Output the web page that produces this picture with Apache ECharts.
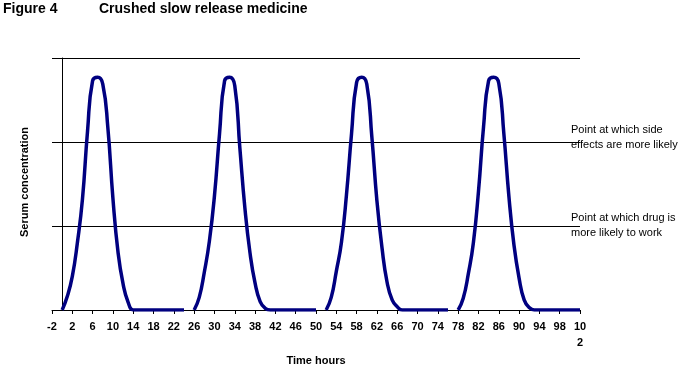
<!DOCTYPE html>
<html>
<head>
<meta charset="utf-8">
<script src="https://cdn.jsdelivr.net/npm/echarts@6/dist/echarts.min.js"></script>
<style>
html,body{margin:0;padding:0;background:#fff;}
#chart{width:684px;height:369px;}
</style>
</head>
<body>
<div id="chart"></div>
<script>
// ---- data ----
const doseStartHours = [0, 26, 52, 78];
const dose1 = [0, 0.16, 0.40, 0.80, 1.32, 2.13, 2.73, 2.77, 2.69, 2.17, 1.33, 0.69, 0.31, 0.09, 0, 0, 0, 0, 0, 0, 0, 0, 0, 0, 0];
const dose2 = [0, 0.15, 0.45, 0.82, 1.36, 2.10, 2.73, 2.77, 2.67, 1.93, 1.21, 0.68, 0.32, 0.10, 0.02, 0, 0, 0, 0, 0, 0, 0, 0, 0, 0];
const dose3 = [0, 0.15, 0.46, 0.80, 1.37, 2.10, 2.71, 2.77, 2.69, 2.06, 1.30, 0.74, 0.33, 0.12, 0.04, 0, 0, 0, 0, 0, 0, 0, 0, 0, 0];
const dose4 = [0, 0.14, 0.43, 0.80, 1.41, 2.18, 2.73, 2.77, 2.70, 2.10, 1.35, 0.77, 0.38, 0.12, 0.03, 0, 0, 0, 0, 0, 0, 0, 0, 0, 0];
const xTickValues = [-2, 2, 6, 10, 14, 18, 22, 26, 30, 34, 38, 42, 46, 50, 54, 58, 62, 66, 70, 74, 78, 82, 86, 90, 94, 98, 102];
const titleLeft = 'Figure 4';
const titleMain = 'Crushed slow release medicine';
const xAxisTitle = 'Time hours';
const yAxisTitle = 'Serum concentration';
const noteSide = ['Point at which side', 'effects are more likely'];
const noteWork = ['Point at which drug is', 'more likely to work'];

const doses = [dose1, dose2, dose3, dose4];
const series = doses.map((vals, d) => ({
  type: 'line',
  data: vals.map((v, i) => [doseStartHours[d] + i, v]),
  smooth: 0.5,
  showSymbol: false,
  symbol: 'none',
  lineStyle: { color: '#000080', width: 3.5 },
  z: 5,
  animation: false
}));

const chart = echarts.init(document.getElementById('chart'), null, { renderer: 'canvas' });
chart.setOption({
  animation: false,
  backgroundColor: '#ffffff',
  grid: { left: 52, right: 104, top: 58, bottom: 59, containLabel: false, outerBoundsMode: 'none' },
  xAxis: {
    type: 'value',
    min: -2,
    max: 102,
    name: xAxisTitle,
    nameLocation: 'middle',
    nameGap: 45,
    nameTextStyle: { fontFamily: 'Liberation Sans', fontWeight: 'bold', fontSize: 11, color: '#000' },
    axisLine: { onZero: false, lineStyle: { color: '#000', width: 1 } },
    axisTick: { show: true, inside: false, length: 4, customValues: xTickValues, lineStyle: { color: '#000' } },
    axisLabel: {
      customValues: xTickValues,
      margin: 9,
      fontFamily: 'Liberation Sans', fontWeight: 'bold', fontSize: 11, color: '#000',
      lineHeight: 16,
      formatter: v => (String(v).length > 2 && v > 0 ? String(v).slice(0, 2) + '\n' + String(v).slice(2) : String(v))
    },
    splitLine: { show: false }
  },
  yAxis: {
    type: 'value',
    min: 0,
    max: 3,
    interval: 1,
    name: yAxisTitle,
    nameLocation: 'middle',
    nameGap: 22,
    nameTextStyle: { fontFamily: 'Liberation Sans', fontWeight: 'bold', fontSize: 11, color: '#000', padding: [0, 0, 0, 4] },
    axisLine: { show: true, onZero: true, lineStyle: { color: '#000', width: 1 } },
    axisTick: { show: false },
    axisLabel: { show: false },
    splitLine: { show: true, lineStyle: { color: '#000', width: 1 } }
  },
  series: series,
  graphic: [
    { type: 'text', left: 3, top: 2, style: { text: titleLeft, font: 'bold 14px "Liberation Sans"', fill: '#000' } },
    { type: 'text', left: 99, top: 2, style: { text: titleMain, font: 'bold 14px "Liberation Sans"', fill: '#000' } },
    { type: 'text', left: 571, top: 122, style: { text: noteSide.join('\n'), font: '11px "Liberation Sans"', lineHeight: 15, fill: '#000' } },
    { type: 'text', left: 571, top: 210, style: { text: noteWork.join('\n'), font: '11px "Liberation Sans"', lineHeight: 15, fill: '#000' } }
  ]
});
</script>
</body>
</html>
